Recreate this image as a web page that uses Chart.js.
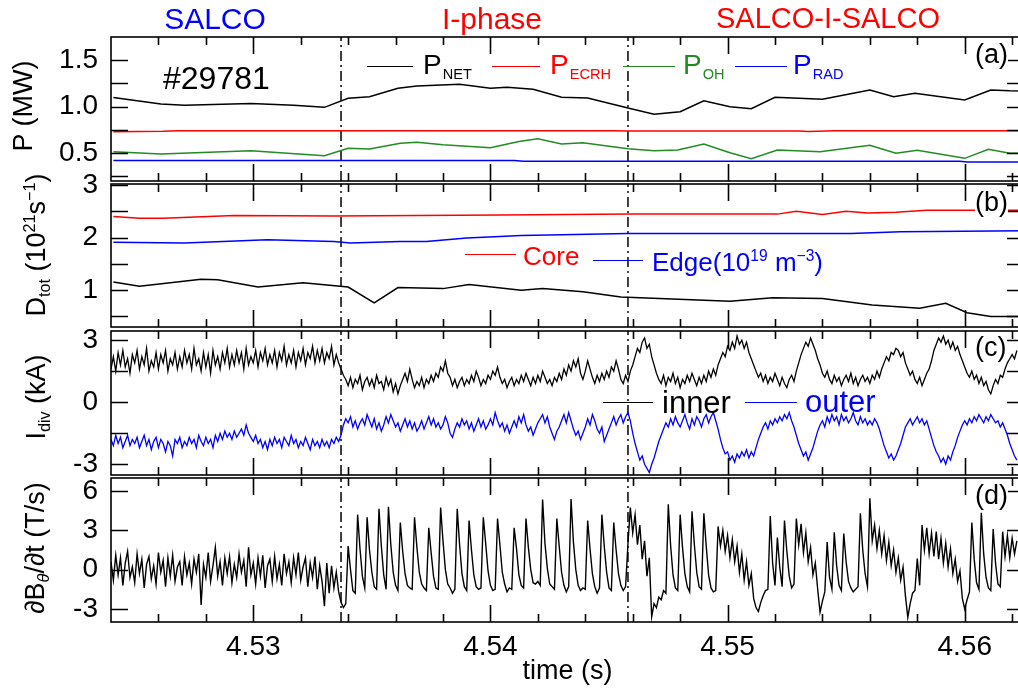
<!DOCTYPE html>
<html>
<head>
<meta charset="utf-8">
<title>Shot 29781 - SALCO / I-phase</title>
<script src="https://cdn.jsdelivr.net/npm/chart.js@4.4.0/dist/chart.umd.min.js"></script>
<style>
  html, body { margin: 0; padding: 0; background: #fff; }
  body {
    width: 1018px; height: 690px; overflow: hidden; position: relative;
    font-family: "Liberation Sans", Arial, Helvetica, sans-serif; color: #000;
  }
  canvas { position: absolute; left: 0; top: 0; }
  .t   { position: absolute; white-space: nowrap; line-height: 1; }
  .c   { transform: translateX(-50%); }
  .ln  { position: absolute; height: 0; border-top-style: solid; }
  .sb  { font-size: 0.6em; position: relative; top: 0.3em; }
  .lsb { font-size: 0.52em; position: relative; top: 0.36em; margin-left: 1px; }
  .sp  { font-size: 0.6em; position: relative; top: -0.62em; }
  .yt  {
    position: absolute; white-space: nowrap; line-height: 1; font-size: 27px;
    transform: translate(-50%, -50%) rotate(-90deg);
  }
  .tag { position: absolute; background: #fff; font-size: 27px; line-height: 1; }
</style>
</head>
<body>
<canvas id="pa" width="1030" height="690"></canvas>
<canvas id="pb" width="1030" height="690"></canvas>
<canvas id="pc" width="1030" height="690"></canvas>
<canvas id="pd" width="1030" height="690"></canvas>

<!-- phase titles -->
<div class="t c" style="left:215px;top:4px;font-size:30px;color:#0000ff">SALCO</div>
<div class="t c" style="left:492px;top:4px;font-size:30px;color:#ff0000">I-phase</div>
<div class="t c" style="left:828px;top:4px;font-size:29px;color:#ff0000">SALCO-I-SALCO</div>

<!-- y titles -->
<div class="yt" style="left:23px;top:106px">P (MW)</div>
<div class="yt" style="left:36px;top:245px">D<span class="sb">tot</span> (10<span class="sp">21</span>s<span class="sp">&minus;1</span>)</div>
<div class="yt" style="left:36px;top:397px">I<span class="sb">div</span> (kA)</div>
<div class="yt" style="left:35px;top:548px">&part;B<span class="sb"><i>&theta;</i></span>/&part;t (T/s)</div>

<!-- panel (a) -->
<div class="t" style="left:163px;top:62px;font-size:32px">#29781</div>
<div class="ln" style="left:367px;top:66px;width:46px;border-top-width:1.5px;border-color:#000"></div>
<div class="t" style="left:423px;top:51px;font-size:28px;color:#000">P<span class="lsb">NET</span></div>
<div class="ln" style="left:492px;top:66px;width:48px;border-top-width:1.5px;border-color:#ff0000"></div>
<div class="t" style="left:550px;top:51px;font-size:28px;color:#ff0000">P<span class="lsb">ECRH</span></div>
<div class="ln" style="left:623px;top:66px;width:52px;border-top-width:1.5px;border-color:#228b22"></div>
<div class="t" style="left:683px;top:51px;font-size:28px;color:#228b22">P<span class="lsb">OH</span></div>
<div class="ln" style="left:735px;top:66px;width:52px;border-top-width:1.5px;border-color:#0000ff"></div>
<div class="t" style="left:793px;top:51px;font-size:28px;color:#0000ff">P<span class="lsb">RAD</span></div>
<div class="tag" style="left:975px;top:41px">(a)</div>

<!-- panel (b) -->
<div class="ln" style="left:465px;top:254px;width:51px;border-top-width:1.5px;border-color:#ff0000"></div>
<div class="t" style="left:523px;top:243px;font-size:26px;color:#ff0000">Core</div>
<div class="ln" style="left:593px;top:260px;width:50px;border-top-width:1.5px;border-color:#0000ff"></div>
<div class="t" style="left:652px;top:249px;font-size:26px;color:#0000ff">Edge(10<span class="sp">19</span> m<span class="sp">&minus;3</span>)</div>
<div class="tag" style="left:975px;top:189px">(b)</div>

<!-- panel (c) -->
<div class="ln" style="left:603px;top:402px;width:50px;border-top-width:1px;border-color:#000"></div>
<div class="t" style="left:662px;top:387px;font-size:31px;color:#000">inner</div>
<div class="ln" style="left:745px;top:402px;width:52px;border-top-width:1px;border-color:#0000ff"></div>
<div class="t" style="left:805px;top:386px;font-size:31px;color:#0000ff">outer</div>
<div class="tag" style="left:975px;top:334px">(c)</div>

<!-- panel (d) -->
<div class="tag" style="left:975px;top:482px">(d)</div>

<script>
// ── Axes ──────────────────────────────────────
const X_MIN = 4.524;
const X_MAX = 4.5625;
const xTicks = [4.526, 4.528, 4.53, 4.532, 4.534, 4.536, 4.538, 4.54, 4.542, 4.544,
                4.546, 4.548, 4.55, 4.552, 4.554, 4.556, 4.558, 4.56, 4.562];
const xMajor = [4.53, 4.54, 4.55, 4.56];
const phaseEdges = [4.5337, 4.5458];

const aTicks = [0.25, 0.5, 0.75, 1.0, 1.25, 1.5];
const aLabels = [0.5, 1.0, 1.5];
const bTicks = [0.5, 1, 1.5, 2, 2.5, 3];
const bLabels = [1, 2, 3];
const cTicks = [-3, -1.5, 0, 1.5, 3];
const cLabels = [-3, 0, 3];
const dTicks = [-3, 0, 3, 6];
const dLabels = [-3, 0, 3, 6];

// ── (a) heating / radiated power, MW  [time, value] ──
const pNet = [[4.5241,1.10],[4.5261,1.03],[4.5271,1.015],[4.5299,1.035],[4.5317,1.015],[4.5330,0.993],
  [4.5340,1.09],[4.5349,1.107],[4.5361,1.198],[4.5369,1.223],[4.5387,1.241],[4.5400,1.198],[4.5407,1.209],
  [4.5418,1.187],[4.5430,1.101],[4.5441,1.093],[4.5458,0.986],[4.5469,0.918],[4.5480,0.946],[4.5490,1.064],
  [4.5501,0.999],[4.5510,0.978],[4.5520,1.101],[4.5540,1.079],[4.5560,1.180],[4.5570,1.107],[4.5579,1.144],
  [4.5600,1.072],[4.5611,1.180],[4.5619,1.172],[4.5625,1.17]];
const pEcrh = [[4.5241,0.73],[4.5262,0.735],[4.5268,0.74],[4.5452,0.74],[4.5458,0.737],[4.5530,0.737],
  [4.5534,0.733],[4.5545,0.74],[4.5625,0.74]];
const pOh = [[4.5241,0.515],[4.5261,0.491],[4.5299,0.526],[4.5330,0.472],[4.5340,0.552],[4.5349,0.544],
  [4.5362,0.606],[4.5369,0.617],[4.5380,0.591],[4.5400,0.558],[4.5412,0.625],[4.5420,0.655],[4.5430,0.598],
  [4.5439,0.612],[4.5458,0.548],[4.5469,0.526],[4.5479,0.534],[4.5490,0.598],[4.5501,0.505],[4.5510,0.440],
  [4.5521,0.534],[4.5539,0.515],[4.5560,0.584],[4.5571,0.498],[4.5580,0.530],[4.5600,0.444],[4.5610,0.541],
  [4.5619,0.498],[4.5625,0.50]];
const pRad = [[4.5241,0.42],[4.5410,0.42],[4.5414,0.412],[4.5598,0.412],[4.5601,0.405],[4.5625,0.405]];

// ── (b) D-alpha total, core and edge density ──
const dCore = [[4.5241,2.40],[4.5252,2.37],[4.5262,2.37],[4.5292,2.42],[4.5334,2.41],[4.5404,2.43],
  [4.5460,2.447],[4.5521,2.447],[4.5529,2.50],[4.5540,2.44],[4.5550,2.50],[4.5559,2.47],[4.5571,2.485],
  [4.5584,2.52],[4.5625,2.52]];
const dEdge = [[4.5241,1.91],[4.5271,1.90],[4.5306,1.96],[4.5334,1.925],[4.5341,1.90],[4.5362,1.925],
  [4.5373,1.925],[4.5390,1.995],[4.5404,2.02],[4.5413,2.04],[4.5458,2.08],[4.5552,2.08],[4.5573,2.11],
  [4.5625,2.13]];
const dTot = [[4.5241,1.157],[4.5252,1.075],[4.5278,1.21],[4.5285,1.20],[4.5302,1.06],[4.5321,1.14],
  [4.5340,1.06],[4.5351,0.76],[4.5361,1.05],[4.5380,1.03],[4.5391,1.11],[4.5413,1.00],[4.5422,1.03],
  [4.5439,0.97],[4.5455,0.87],[4.5501,0.79],[4.5519,0.855],[4.5540,0.84],[4.5561,0.72],[4.5581,0.655],
  [4.5592,0.75],[4.5601,0.57],[4.5611,0.50],[4.5625,0.50]];

// ── (c),(d) fast signals, sampled every 0.1 ms from 4.524 s ──
const GRID_T0 = 4.524;
const GRID_DT = 0.0001;

const iInner = [
  1.6,2.2,1.5,2.4,1.8,2.5,1.7,2.1,1.4,2.3,  1.9,2.5,1.6,2.2,1.8,2.6,1.5,2.0,1.7,2.4,
  1.6,2.3,1.9,2.5,1.5,2.1,1.8,2.4,1.6,2.2,  1.7,2.5,1.9,2.3,1.6,2.6,1.8,2.1,1.5,2.4,
  1.7,2.3,1.4,2.5,1.8,2.2,1.6,2.4,1.9,2.6,  1.7,2.3,1.8,2.5,1.9,2.4,1.6,2.6,1.8,2.2,
  1.9,2.5,1.7,2.4,2.0,2.6,1.8,2.3,1.9,2.5,  1.7,2.4,2.0,2.7,1.8,2.3,1.9,2.5,1.7,2.4,
  2.0,2.6,1.8,2.4,2.1,2.7,1.9,2.5,2.0,2.6,  1.9,2.4,2.1,2.7,1.8,2.3,1.9,1.6,1.3,1.1,
  0.8,1.2,0.7,1.1,0.9,1.3,0.6,1.0,1.2,0.8,  1.1,0.7,1.3,0.9,1.0,0.6,1.2,0.8,1.1,0.5,
  0.9,0.4,0.8,1.1,1.4,1.0,1.6,1.1,0.7,1.0,  0.8,1.2,0.7,1.1,0.9,1.3,1.0,1.4,1.2,1.7,
  1.5,2.0,1.4,1.2,0.8,1.1,0.7,1.0,1.2,0.8,  1.1,0.9,1.3,1.0,1.5,1.2,0.8,1.1,0.9,1.3,
  1.1,1.5,1.3,1.7,1.2,0.9,1.1,0.7,1.0,1.2,  0.8,1.1,0.9,1.3,1.0,1.4,1.1,0.8,1.2,0.9,
  1.3,1.0,1.5,1.2,0.9,1.1,0.8,1.2,1.0,1.4,  1.1,1.6,1.3,1.8,1.5,2.0,1.7,2.1,1.4,1.1,
  1.5,2.0,1.6,1.2,0.9,1.3,1.0,1.4,1.1,1.5,  1.2,1.7,1.5,2.0,1.6,1.1,0.9,1.3,1.0,1.5,
  1.8,2.2,2.6,2.4,2.9,3.1,2.6,2.8,2.2,1.8,  1.4,1.1,0.9,1.3,0.8,1.2,1.0,1.4,0.9,1.2,
  0.7,1.1,0.9,1.3,1.0,1.4,1.1,0.8,1.2,0.9,  1.3,1.0,1.5,1.2,1.6,1.3,1.8,2.1,2.4,2.2,
  2.7,2.5,2.9,2.6,3.2,2.8,3.0,2.6,2.9,2.4,  2.1,1.8,1.5,1.2,1.4,1.0,1.3,0.9,1.2,1.0,
  1.4,1.1,0.8,1.2,0.9,0.7,1.1,1.3,1.0,1.5,  1.9,2.3,2.6,2.9,2.7,3.1,2.8,2.5,2.1,1.8,
  1.4,1.2,1.5,1.1,0.9,1.3,1.0,1.2,0.8,1.1,  1.3,1.0,1.4,0.9,1.2,0.8,1.1,1.3,1.0,1.2,
  0.9,1.3,1.1,1.5,1.2,1.6,1.9,2.2,2.0,2.4,  2.3,2.6,2.5,2.2,2.4,1.9,1.6,1.3,1.5,1.1,
  0.9,1.2,0.8,1.1,1.4,1.6,2.0,2.5,2.8,3.1,  2.9,3.2,2.8,3.0,2.6,2.9,2.5,2.7,2.3,2.0,
  1.7,1.4,1.2,1.5,1.1,1.3,0.9,1.2,0.8,1.0,  0.6,0.4,0.8,1.1,0.9,1.3,1.2,1.6,1.9,2.1,
  2.3,2.1,2.5
];

const iOuter = [
  -1.8,-2.1,-1.6,-2.0,-1.7,-2.2,-1.9,-1.6,-2.1,-1.8,  -2.0,-1.7,-2.2,-1.9,-1.6,-2.1,-1.8,-2.3,-1.9,-1.7,
  -2.2,-1.8,-2.0,-2.4,-1.9,-2.1,-2.6,-1.8,-2.0,-1.7,  -2.2,-1.9,-2.1,-1.7,-2.0,-1.8,-2.2,-1.6,-1.9,-2.1,
  -1.7,-2.0,-1.8,-2.2,-1.6,-1.9,-1.5,-1.8,-1.4,-1.7,  -1.5,-1.8,-1.4,-1.7,-1.5,-1.3,-1.6,-1.1,-1.5,-1.7,
  -1.9,-1.6,-2.0,-1.8,-2.2,-1.9,-2.3,-1.8,-2.1,-1.7,  -2.0,-1.8,-2.2,-1.7,-1.9,-2.1,-1.6,-2.0,-1.8,-2.2,
  -1.9,-2.1,-1.7,-2.0,-2.3,-1.8,-2.1,-1.9,-2.2,-1.8,  -2.1,-1.9,-2.2,-1.8,-2.0,-1.7,-1.9,-1.6,-1.1,-0.8,
  -1.0,-0.7,-1.2,-0.9,-1.3,-1.0,-0.8,-1.1,-0.6,-0.9,  -1.2,-0.8,-1.3,-1.0,-1.4,-1.1,-0.7,-1.0,-0.6,-0.9,
  -1.2,-1.0,-1.4,-1.1,-0.8,-1.2,-0.9,-1.3,-1.0,-1.4,  -1.2,-0.9,-1.3,-1.0,-0.7,-1.1,-0.8,-1.2,-1.0,-1.3,
  -1.1,-0.7,-1.0,-1.5,-1.7,-1.3,-1.0,-1.2,-0.8,-1.1,  -0.9,-1.3,-1.0,-1.4,-1.1,-0.8,-1.2,-0.9,-1.3,-1.1,
  -0.8,-1.1,-0.5,-0.9,-1.2,-1.0,-1.4,-1.1,-1.5,-1.2,  -0.9,-1.2,-0.7,-1.0,-0.6,-1.1,-1.4,-1.2,-1.6,-1.3,
  -1.0,-0.8,-0.6,-1.0,-0.7,-1.2,-1.5,-1.8,-1.4,-1.2,  -0.9,-0.6,-1.0,-0.5,-0.9,-1.3,-1.6,-1.4,-1.8,-1.5,
  -1.2,-0.8,-1.1,-0.6,-0.9,-1.3,-1.5,-1.2,-1.9,-1.6,  -1.3,-1.0,-0.7,-1.1,-0.8,-0.6,-1.0,-0.7,-0.5,-0.9,
  -1.5,-2.0,-2.4,-2.8,-2.6,-3.0,-3.2,-3.4,-3.0,-2.7,  -2.3,-1.9,-1.6,-1.3,-1.0,-1.2,-0.8,-1.1,-0.7,-1.0,
  -1.2,-0.9,-0.6,-1.0,-1.3,-0.8,-1.1,-0.7,-0.9,-1.2,  -0.8,-0.6,-1.0,-0.7,-0.5,-0.9,-1.3,-1.8,-2.2,-2.5,
  -2.4,-2.8,-2.6,-2.9,-2.5,-2.7,-2.4,-2.6,-2.3,-2.7,  -2.4,-2.6,-2.2,-1.8,-1.5,-1.2,-1.0,-1.3,-0.9,-1.1,
  -0.8,-1.0,-0.7,-0.9,-0.6,-0.8,-0.5,-0.9,-1.2,-1.6,  -2.0,-2.3,-2.6,-2.4,-2.8,-2.5,-2.2,-1.8,-1.4,-1.1,
  -0.9,-1.2,-0.7,-1.0,-0.6,-0.9,-0.7,-1.1,-0.6,-0.9,  -0.7,-1.0,-0.8,-0.5,-0.9,-1.1,-0.7,-1.0,-0.8,-1.1,
  -0.9,-1.1,-0.8,-1.0,-1.3,-1.7,-2.1,-2.4,-2.7,-2.5,  -2.8,-2.6,-2.3,-2.0,-1.6,-1.2,-1.0,-0.8,-1.1,-0.9,
  -0.7,-1.0,-0.8,-1.1,-0.9,-1.3,-1.7,-2.1,-2.4,-2.6,  -2.9,-2.7,-3.0,-2.6,-2.8,-2.4,-2.1,-1.7,-1.4,-1.1,
  -0.9,-1.1,-0.8,-1.0,-0.7,-0.9,-0.6,-0.8,-1.0,-0.7,  -0.9,-0.6,-0.8,-1.0,-0.9,-1.2,-1.0,-1.3,-1.6,-2.0,
  -2.3,-2.6,-2.8
];

const dBdt = [
  0.6,-0.8,1.1,-0.4,0.9,-1.2,0.5,1.4,-0.6,0.2,  -1.0,1.2,-0.3,0.8,-1.4,0.4,1.0,-0.7,0.3,-1.1,
  1.3,-0.2,0.7,-1.3,0.9,-0.5,1.1,-0.9,0.2,0.6,  -1.2,1.0,-0.4,0.5,-1.1,0.8,-0.2,1.2,-2.7,0.4,
  -0.6,1.3,-0.9,0.3,1.7,-0.5,0.6,-1.2,0.9,-0.3,  1.0,-1.0,0.4,-0.6,1.2,-0.2,0.7,-1.3,1.7,-0.4,
  0.5,-1.1,0.9,-0.5,1.1,-1.4,0.3,0.8,-0.9,1.0,  -0.7,0.4,-1.2,1.2,-0.3,0.6,-1.0,0.9,-0.4,1.3,
  -0.8,0.2,0.9,-1.3,0.5,-0.6,1.0,-1.5,0.3,-0.9,  -2.8,0.5,-1.8,0.3,-1.4,-0.2,-1.7,-2.5,-2.9,-2.6,
  1.8,0.0,-1.6,-1.8,4.2,1.6,-0.5,-1.4,4.0,1.5,  -0.2,-1.3,-1.5,4.65,1.8,-0.4,-1.5,4.8,1.9,-0.2,
  -1.2,-1.6,3.6,1.4,-0.3,-1.2,-1.4,-1.5,4.0,1.7,  -0.2,-1.1,-1.4,-1.6,3.2,1.3,-0.5,-1.4,-1.5,4.75,
  2.2,0.0,-1.1,-1.4,-1.8,-1.5,4.65,1.9,-0.3,-1.3,  -1.6,3.75,1.5,-0.4,-1.3,-1.5,-1.4,4.0,2.0,-0.1,
  -1.2,-1.6,-1.5,3.9,1.9,-0.2,-1.1,-1.7,-1.4,-1.5,  3.2,1.6,-0.4,-1.2,-1.4,3.9,1.7,0.0,-1.0,-1.1,
  -0.9,-1.2,5.35,2.0,0.1,-1.1,-1.3,-1.5,3.9,1.8,  -0.2,-1.2,-1.7,-1.3,5.4,2.1,0.0,-1.2,-1.6,-1.4,
  -1.5,3.75,1.6,-0.3,-1.3,-1.8,-1.4,4.2,1.8,-0.2,  -1.4,-1.6,3.6,1.5,-0.3,-1.2,-1.6,-1.3,2.0,4.75,
  2.8,4.2,1.9,3.4,0.8,2.2,-0.5,0.9,-3.6,-2.6,  -2.9,-2.1,-2.3,-1.6,-1.8,5.0,1.8,-0.4,-1.4,-1.6,
  4.2,1.7,-0.3,-1.3,-1.7,4.45,1.9,-0.2,-1.3,-1.5,  4.3,1.8,-0.4,-1.4,-1.7,-1.6,3.3,1.8,3.0,1.4,
  2.6,0.9,2.3,0.6,1.8,-0.2,1.2,-0.8,0.6,-1.2,  -0.3,-2.2,-2.9,-3.2,-2.5,-2.0,-1.6,-1.5,4.1,0.5,
  -1.2,2.45,0.2,-1.3,3.75,1.4,-0.5,-1.4,-1.1,3.9,  1.9,3.5,1.3,2.8,0.6,1.7,-0.4,0.5,-1.5,-3.25,
  -2.4,-1.7,2.1,-0.6,-1.5,2.85,0.3,-1.2,-1.6,2.75,  0.6,-0.9,-1.4,-1.7,-1.5,-1.3,4.3,1.5,-0.3,-1.3,
  5.45,2.2,3.4,1.6,3.0,1.2,2.6,0.7,2.1,0.3,  1.5,-0.2,0.9,-0.8,0.2,-2.0,-3.65,-2.6,-1.8,-1.6,
  0.85,-1.2,3.4,1.5,3.2,1.2,2.8,1.0,2.9,0.8,  2.4,0.5,2.0,0.2,1.6,-0.3,0.8,-0.9,-0.1,-2.2,
  -3.0,-2.3,-1.7,3.6,0.8,-1.0,-1.5,4.35,1.2,-0.6,  -1.4,-1.6,3.1,0.5,-1.1,-1.3,2.9,1.0,2.6,0.9,
  2.4,1.2,2.2
];

// ── Colours / fonts ───────────────────────────
const FONT  = '"Liberation Sans", Arial, Helvetica, sans-serif';
const BLACK = '#000000';
const RED   = '#ff0000';
const GREEN = '#228b22';
const BLUE  = '#0000ff';

// ── Helpers ───────────────────────────────────
function pairs(arr) {
  return arr.map(p => ({ x: p[0], y: p[1] }));
}

function onGrid(vals) {
  return vals.map((v, i) => ({ x: GRID_T0 + i * GRID_DT, y: v }));
}

function series(data, color, width) {
  return { data, borderColor: color, borderWidth: width, pointRadius: 0, tension: 0, fill: false };
}

// dash-dot markers at the phase boundaries, full panel height
function phaseLines(yMin, yMax) {
  return phaseEdges.map(t => ({
    data: [{ x: t, y: yMin }, { x: t, y: yMax }],
    borderColor: BLACK, borderWidth: 1.5, borderDash: [10, 4, 2, 4],
    pointRadius: 0, fill: false
  }));
}

// box frame with inward ticks on all four sides (IDL style)
const frameTicks = {
  id: 'frameTicks',
  afterDatasetsDraw(chart) {
    const { ctx, chartArea: a, scales: { x, y } } = chart;
    ctx.save();
    ctx.strokeStyle = BLACK;
    ctx.lineWidth = 1.6;
    ctx.strokeRect(a.left, a.top, a.right - a.left, a.bottom - a.top);
    ctx.beginPath();
    xTicks.forEach(v => {
      const px = Math.round(x.getPixelForValue(v)) + 0.5;
      const len = xMajor.includes(v) ? 17 : 8;
      ctx.moveTo(px, a.bottom); ctx.lineTo(px, a.bottom - len);
      ctx.moveTo(px, a.top);    ctx.lineTo(px, a.top + len);
    });
    y.ticks.forEach(t => {
      const py = Math.round(y.getPixelForValue(t.value)) + 0.5;
      ctx.moveTo(a.left, py);  ctx.lineTo(a.left + 17, py);
      ctx.moveTo(a.right, py); ctx.lineTo(a.right - 17, py);
    });
    ctx.stroke();
    ctx.restore();
  }
};

function makePanel(id, top, bottom, yMin, yMax, yTicks, yLabels, fmt, datasets, withX) {
  const xScale = {
    type: 'linear', min: X_MIN, max: X_MAX, display: withX,
    grid: { display: false, drawTicks: false },
    border: { display: false }
  };
  if (withX) {
    Object.assign(xScale, {
      afterFit: s => { s.height = 690 - bottom; },
      afterBuildTicks: s => { s.ticks = xTicks.map(v => ({ value: v })); },
      ticks: {
        autoSkip: false, maxRotation: 0, minRotation: 0, padding: 8, color: BLACK,
        font: { family: FONT, size: 28 },
        callback: v => xMajor.includes(v) ? v.toFixed(2) : ''
      },
      title: {
        display: true, text: 'time (s)', color: BLACK,
        font: { family: FONT, size: 27 }, padding: { top: 0, bottom: 2 }
      }
    });
  }

  return new Chart(document.getElementById(id), {
    type: 'line',
    data: { datasets: datasets.concat(phaseLines(yMin, yMax)) },
    options: {
      responsive: false,
      animation: false,
      events: [],
      layout: { padding: { left: 0, right: 6, top: top, bottom: withX ? 0 : 690 - bottom } },
      plugins: { legend: { display: false }, tooltip: { enabled: false } },
      scales: {
        x: xScale,
        y: {
          type: 'linear', min: yMin, max: yMax,
          afterFit: s => { s.width = 111; },
          afterBuildTicks: s => { s.ticks = yTicks.map(v => ({ value: v })); },
          grid: { display: false, drawTicks: false },
          border: { display: false },
          ticks: {
            autoSkip: false, padding: 13, color: BLACK,
            font: { family: FONT, size: 28 },
            callback: v => yLabels.includes(v) ? fmt(v) : ''
          }
        }
      }
    },
    plugins: [frameTicks]
  });
}

// ── Panels ────────────────────────────────────
makePanel('pa', 37, 181, 0.2, 1.75, aTicks, aLabels, v => v.toFixed(1), [
  series(pairs(pRad), BLUE, 1.5),
  series(pairs(pOh), GREEN, 1.5),
  series(pairs(pEcrh), RED, 1.5),
  series(pairs(pNet), BLACK, 1.5)
], false);

makePanel('pb', 184, 327, 0.3, 3.02, bTicks, bLabels, v => String(v), [
  series(pairs(dTot), BLACK, 1.5),
  series(pairs(dEdge), BLUE, 1.5),
  series(pairs(dCore), RED, 1.5)
], false);

makePanel('pc', 331, 475, -3.52, 3.44, cTicks, cLabels, v => String(v), [
  series(onGrid(iOuter), BLUE, 1.3),
  series(onGrid(iInner), BLACK, 1.3)
], false);

makePanel('pd', 478, 622, -4, 7, dTicks, dLabels, v => String(v), [
  series(onGrid(dBdt), BLACK, 1.4)
], true);
</script>
</body>
</html>
